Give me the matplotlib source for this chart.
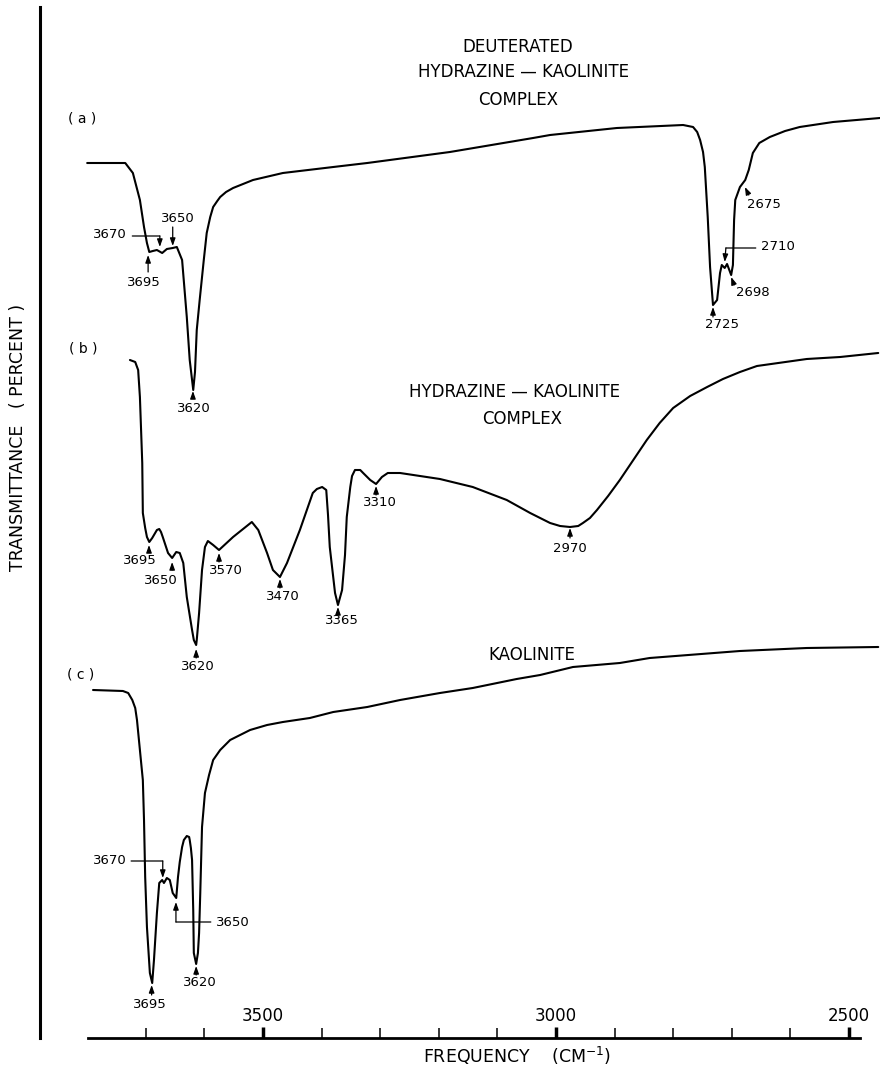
import matplotlib
matplotlib.use("Agg")
import matplotlib.pyplot as plt
from matplotlib.ticker import FixedLocator, NullFormatter

# ---------------- data ----------------
# (a) deuterated hydrazine-kaolinite complex
wn_a = [3800, 3735, 3722, 3710, 3703, 3698, 3694, 3688, 3681, 3672, 3664, 3654,
        3647, 3638, 3630, 3625, 3619, 3616, 3613, 3608, 3601, 3596, 3590, 3585,
        3578, 3573, 3563, 3551, 3517, 3466, 3380, 3322, 3181, 3039, 3010, 2896,
        2783, 2766, 2759, 2754, 2749, 2746, 2741, 2737, 2732, 2725, 2720, 2717,
        2712, 2708, 2701, 2698, 2696, 2694, 2686, 2677, 2671, 2664, 2653, 2635,
        2609, 2584, 2527, 2447]
t_a = [87.5, 87.5, 86.5, 83.8, 81.1, 79.5, 78.6, 78.7, 78.8, 78.5, 78.9, 79.0,
       79.1, 77.8, 72.1, 67.8, 64.8, 66.6, 70.8, 73.8, 77.8, 80.5, 82.1, 83.1,
       83.7, 84.1, 84.6, 85.0, 85.8, 86.5, 87.1, 87.5, 88.6, 90.0, 90.3, 91.0,
       91.3, 91.1, 90.6, 89.8, 88.6, 87.1, 82.1, 77.1, 73.3, 73.8, 76.5, 77.3,
       77.0, 77.4, 76.3, 77.3, 81.8, 83.8, 85.1, 85.8, 86.8, 88.5, 89.5, 90.1,
       90.7, 91.1, 91.6, 92.0]

# (b) hydrazine-kaolinite complex
wn_b = [3727, 3718, 3713, 3710, 3706, 3705, 3701, 3698, 3694, 3689, 3684, 3681,
        3677, 3674, 3671, 3662, 3655, 3648, 3642, 3636, 3630, 3621, 3618, 3614,
        3613, 3609, 3604, 3599, 3594, 3585, 3575, 3551, 3519, 3508, 3493, 3483,
        3471, 3459, 3437, 3415, 3408, 3399, 3392, 3389, 3386, 3377, 3372, 3365,
        3360, 3357, 3351, 3348, 3343, 3334, 3329, 3317, 3307, 3297, 3287, 3266,
        3198, 3142, 3084, 3044, 3010, 2993, 2976, 2962, 2954, 2942, 2930, 2911,
        2891, 2868, 2845, 2823, 2800, 2771, 2742, 2715, 2686, 2657, 2572, 2515,
        2450]
t_b = [67.8, 67.6, 66.8, 64.1, 57.5, 52.5, 51.0, 50.1, 49.6, 50.0, 50.5, 50.8,
       50.9, 50.6, 50.1, 48.5, 48.0, 48.6, 48.5, 47.5, 44.1, 40.8, 39.8, 39.3,
       39.8, 42.5, 46.8, 49.1, 49.7, 49.3, 48.8, 50.1, 51.6, 50.8, 48.5, 46.8,
       46.1, 47.5, 50.8, 54.5, 54.9, 55.1, 54.8, 52.3, 49.1, 44.5, 43.3, 44.8,
       48.3, 52.1, 55.1, 56.2, 56.8, 56.8, 56.5, 55.8, 55.4, 56.1, 56.5, 56.5,
       55.9, 55.1, 53.8, 52.5, 51.5, 51.2, 51.1, 51.2, 51.5, 52.0, 52.8, 54.2,
       55.8, 57.8, 59.8, 61.5, 63.0, 64.2, 65.1, 65.9, 66.6, 67.2, 67.9, 68.1,
       68.5]

# (c) kaolinite
wn_c = [3790, 3739, 3730, 3723, 3718, 3715, 3710, 3705, 3703, 3701, 3698, 3693,
        3689, 3686, 3681, 3677, 3672, 3669, 3664, 3659, 3654, 3648, 3645, 3642,
        3638, 3635, 3630, 3626, 3625, 3623, 3621, 3619, 3618, 3614, 3611, 3609,
        3607, 3604, 3599, 3592, 3585, 3573, 3556, 3539, 3522, 3493, 3466, 3420,
        3380, 3322, 3266, 3198, 3142, 3067, 3027, 2971, 2891, 2840, 2686, 2572,
        2450]
t_c = [34.8, 34.7, 34.5, 33.8, 33.0, 31.8, 28.8, 25.8, 21.8, 16.1, 11.1, 6.5,
       5.5, 7.8, 12.5, 15.5, 15.8, 15.5, 16.0, 15.8, 14.5, 14.0, 16.1, 17.6,
       19.1, 19.8, 20.2, 20.1, 19.8, 19.0, 17.8, 12.8, 8.5, 7.4, 8.5, 10.5,
       14.5, 21.1, 24.5, 26.3, 27.8, 28.8, 29.8, 30.3, 30.8, 31.3, 31.6, 32.0,
       32.6, 33.1, 33.8, 34.5, 35.0, 35.9, 36.3, 37.1, 37.5, 38.0, 38.7, 39.0,
       39.1]

major_ticks = [3500, 3000, 2500]
major_labels = ["3500", "3000", "2500"]
minor_ticks = [3700, 3600, 3400, 3300, 3200, 3100, 2900, 2800, 2700, 2600]

# ---------------- figure ----------------
plt.rcParams["font.family"] = ["DejaVu Sans"]
W, H = 884, 1066
fig = plt.figure(figsize=(W / 100, H / 100), dpi=100)
ax = fig.add_axes([40 / W, (H - 1038) / H, (880 - 40) / W, (1038 - 7) / H])
ax.set_xlim(3880.5, 2447)
ax.set_ylim(0, 103.1)

lw = 1.5
for wn, t in ((wn_a, t_a), (wn_b, t_b), (wn_c, t_c)):
    ax.plot(wn, t, color="black", lw=lw, solid_joinstyle="round",
            solid_capstyle="round")

# spines
for s in ("top", "right"):
    ax.spines[s].set_visible(False)
ax.spines["left"].set_linewidth(2.2)
ax.spines["bottom"].set_linewidth(2.0)
ax.spines["bottom"].set_bounds(2481, 3799)

ax.set_yticks([])
ax.xaxis.set_major_locator(FixedLocator(major_ticks))
ax.set_xticklabels(major_labels)
ax.xaxis.set_minor_locator(FixedLocator(minor_ticks))
ax.xaxis.set_minor_formatter(NullFormatter())
ax.tick_params(axis="x", which="major", direction="in", length=8, width=2.5,
               labelsize=12, pad=-22)
ax.tick_params(axis="x", which="minor", direction="in", length=7, width=1.1)

# axis titles
fig.text(18 / W, 1 - 437 / H, "TRANSMITTANCE   ( PERCENT )", rotation=90,
         ha="center", va="center", fontsize=12.5)
fig.text(517 / W, 1 - 1056 / H, "FREQUENCY    (CM$^{-1}$)", ha="center",
         va="center", fontsize=12.5)

# spectrum titles
tfs = 12
ax.text(3065, 99.1, "DEUTERATED", ha="center", va="center", fontsize=tfs)
ax.text(3055, 96.6, "HYDRAZINE \u2014 KAOLINITE", ha="center", va="center", fontsize=tfs)
ax.text(3065, 93.8, "COMPLEX", ha="center", va="center", fontsize=tfs)
ax.text(3070, 64.6, "HYDRAZINE \u2014 KAOLINITE", ha="center", va="center", fontsize=tfs)
ax.text(3058, 61.9, "COMPLEX", ha="center", va="center", fontsize=tfs)
ax.text(3041, 38.3, "KAOLINITE", ha="center", va="center", fontsize=tfs)

# panel letters
for x, y, s in ((3809, 92.0, "( a )"), (3807, 69.0, "( b )"), (3812, 36.3, "( c )")):
    ax.text(x, y, s, ha="center", va="center", fontsize=10)

# peak labels
nfs = 9.5
arrow = dict(arrowstyle="-|>,head_length=0.45,head_width=0.16", color="black",
             lw=0.9, shrinkA=0, shrinkB=0)
plain = dict(arrowstyle="-", color="black", lw=0.9, shrinkA=0, shrinkB=0)


def label(txt, tx, ty):
    ax.text(tx, ty, txt, ha="center", va="center", fontsize=nfs)


def arr(x0, y0, x1, y1):
    ax.annotate("", xy=(x1, y1), xytext=(x0, y0), arrowprops=arrow)


def seg(x0, y0, x1, y1):
    ax.annotate("", xy=(x1, y1), xytext=(x0, y0), arrowprops=plain)


# (a)
label("3670", 3761, 80.3); seg(3723, 80.2, 3676, 80.2); arr(3676, 80.2, 3676, 79.1)
label("3650", 3645, 81.9); arr(3654, 81.1, 3654, 79.2)
label("3695", 3703, 75.6); arr(3696, 76.6, 3696, 78.3)
label("3620", 3618, 62.9); arr(3619.5, 64.0, 3619.5, 64.7)
label("2725", 2717, 71.4); arr(2732, 72.1, 2732, 73.1)
label("2698", 2664, 74.5); arr(2696, 75.3, 2701, 76.1)
label("2710", 2621, 79.1); seg(2659, 79.0, 2710, 79.0); arr(2710, 79.0, 2712, 77.6)
label("2675", 2645, 83.3); arr(2671, 84.3, 2677.5, 85.1)

# (b)
label("3695", 3710, 47.8); arr(3694.5, 48.6, 3694.5, 49.3)
label("3650", 3674, 45.8); arr(3655, 46.8, 3655, 47.6)
label("3620", 3611, 37.1); arr(3614, 38.0, 3614, 38.9)
label("3570", 3563, 46.7); arr(3575, 47.6, 3575, 48.5)
label("3470", 3466, 44.1); arr(3471, 45.0, 3471, 45.9)
label("3365", 3365, 41.7); arr(3372, 42.3, 3372, 43.1)
label("3310", 3300, 53.5); arr(3307, 54.3, 3307, 55.2)
label("2970", 2976, 48.9); arr(2976, 50.0, 2976, 51.0)

# (c)
label("3670", 3761, 17.8); seg(3725, 17.7, 3671, 17.7); arr(3671, 17.7, 3671, 16.0)
label("3650", 3551, 11.5); seg(3589, 11.6, 3648.5, 11.6); arr(3648.5, 11.6, 3648.5, 13.6)
label("3620", 3607.5, 5.5); arr(3614, 6.3, 3614, 7.2)
label("3695", 3693, 3.3); arr(3690, 4.3, 3690, 5.3)

fig.savefig("out.png", dpi=100)
